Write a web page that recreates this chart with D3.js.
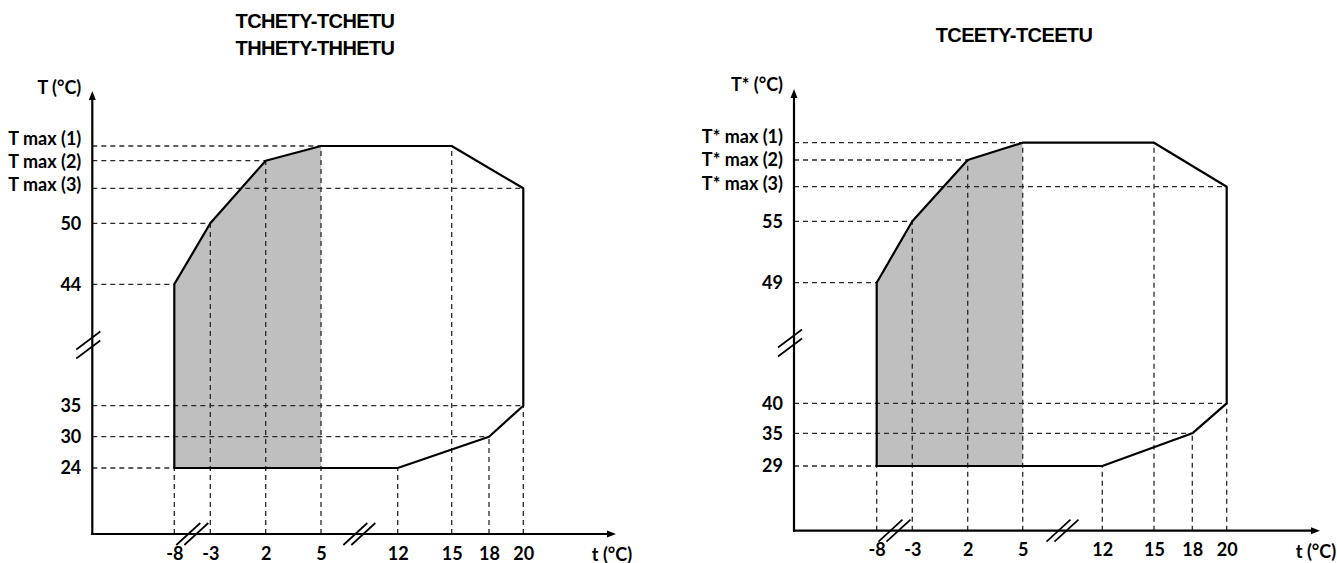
<!DOCTYPE html>
<html><head><meta charset="utf-8">
<script src="https://cdn.jsdelivr.net/npm/d3@7"></script>
<style>body{margin:0;background:#fff}svg{display:block}</style>
</head><body>
<svg id="c" width="1337" height="563"></svg>
<script>
// ---------- data ----------
const tTicks = [-8, -3, 2, 5, 12, 15, 18, 20];
const leftLevels  = ["24", "30", "35", "44", "50", "T max (3)", "T max (2)", "T max (1)"];
const rightLevels = ["29", "35", "40", "49", "55", "T* max (3)", "T* max (2)", "T* max (1)"];
const leftOutline = [[-8,"24"],[12,"24"],[18,"30"],[20,"35"],[20,"T max (3)"],[15,"T max (1)"],[5,"T max (1)"],[2,"T max (2)"],[-3,"50"],[-8,"44"]];
const rightOutline = [[-8,"29"],[12,"29"],[18,"35"],[20,"40"],[20,"T* max (3)"],[15,"T* max (1)"],[5,"T* max (1)"],[2,"T* max (2)"],[-3,"55"],[-8,"49"]];
const shadedUpTo = 5;
const leftTitle = ["TCHETY-TCHETU", "THHETY-THHETU"];
const rightTitle = ["TCEETY-TCEETU"];
const leftYTitle = "T (°C)";
const rightYTitle = "T* (°C)";
const xTitle = "t (°C)";
// axis breaks sit between these tick pairs
const xBreaks = [[-8, -3], [5, 12]];

// ---------- layout (schematic, broken axes) ----------
const charts = [
  { x0: 92.3, y0: 534, xEnd: 616, yTop: 91,
    xOff: [82, 118, 173.4, 228.7, 305.4, 359.4, 396.7, 431],
    yOff: [66, 97.3, 128.3, 249.7, 310.7, 345.7, 373.3, 388],
    labelShift: [0, 0, 0, 0, 0, -4, 1, -7],
    levels: leftLevels, outline: leftOutline, title: leftTitle, titleX: 315, titleY: 21,
    yTitle: leftYTitle, yTitleY: 88 },
  { x0: 794, y0: 530.7, xEnd: 1320, yTop: 89,
    xOff: [82.7, 118.3, 173.7, 228.7, 308.3, 360, 398.3, 432.7],
    yOff: [64.7, 97.4, 127.4, 248, 309.4, 344, 370.7, 388],
    labelShift: [0, 0, 0, 0, 0, -3, 0, -6],
    levels: rightLevels, outline: rightOutline, title: rightTitle, titleX: 1014, titleY: 35,
    yTitle: rightYTitle, yTitleY: 85 }
];

const svg = d3.select("#c");
const labelFont = "Lato, 'Open Sans', sans-serif";
const labelSize = 18;

charts.forEach(c => {
  const g = svg.append("g");
  const x = d3.scaleOrdinal().domain(tTicks).range(c.xOff.map(o => c.x0 + o));
  const y = d3.scaleOrdinal().domain(c.levels).range(c.yOff.map(o => c.y0 - o));
  const P = p => [x(p[0]), y(p[1])];

  // shaded region
  const bottom = c.levels[0];
  const shade = [[tTicks[0], bottom], [shadedUpTo, bottom]]
    .concat(c.outline.filter(p => p[0] <= shadedUpTo && p[1] !== bottom));
  g.append("path").attr("d", d3.line()(shade.map(P)) + "Z")
    .attr("fill", "#bfbfbf").attr("stroke", "none");

  // dashed guides
  const guides = g.append("g").attr("stroke", "#2a2a2a").attr("stroke-width", 1.3)
    .attr("stroke-dasharray", "5,4").attr("fill", "none");
  c.levels.forEach(l => {
    const pts = c.outline.filter(p => p[1] === l);
    const tMin = d3.min(pts, p => p[0]);
    guides.append("line").attr("x1", c.x0).attr("x2", x(tMin)).attr("y1", y(l)).attr("y2", y(l));
  });
  tTicks.forEach(t => {
    const pts = c.outline.filter(p => p[0] === t);
    const lMin = pts.map(p => c.levels.indexOf(p[1])).sort((a, b) => a - b)[0];
    guides.append("line").attr("x1", x(t)).attr("x2", x(t)).attr("y1", c.y0).attr("y2", y(c.levels[lMin]));
  });

  // outline
  g.append("path").attr("d", d3.line()(c.outline.map(P)) + "Z")
    .attr("fill", "none").attr("stroke", "#000").attr("stroke-width", 2.2)
    .attr("stroke-linejoin", "round");

  // axes lines with arrows
  g.append("line").attr("x1", c.x0).attr("x2", c.x0).attr("y1", c.y0 + 1).attr("y2", c.yTop + 6)
    .attr("stroke", "#000").attr("stroke-width", 2.2);
  g.append("line").attr("x1", c.x0 - 1).attr("x2", c.xEnd - 6).attr("y1", c.y0).attr("y2", c.y0)
    .attr("stroke", "#000").attr("stroke-width", 2.2);
  g.append("path").attr("d", `M${c.x0},${c.yTop}L${c.x0 - 3.5},${c.yTop + 9}L${c.x0 + 3.5},${c.yTop + 9}Z`).attr("fill", "#000");
  g.append("path").attr("d", `M${c.xEnd},${c.y0}L${c.xEnd - 9},${c.y0 - 3.5}L${c.xEnd - 9},${c.y0 + 3.5}Z`).attr("fill", "#000");

  // break marks
  const brk = (cx, cy, dx, dy, ox, oy) => {
    [-1, 1].forEach(s => {
      g.append("line").attr("x1", cx + s * ox - dx).attr("y1", cy + s * oy + dy)
        .attr("x2", cx + s * ox + dx).attr("y2", cy + s * oy - dy)
        .attr("stroke", "#000").attr("stroke-width", 1.7);
    });
  };
  xBreaks.forEach(b => brk((x(b[0]) + x(b[1])) / 2, c.y0, 12, 11, 4, 0));
  brk(c.x0 - 4, (y(c.levels[2]) + y(c.levels[3])) / 2, 12, 9, 0, 4.5);

  // tick labels through d3 axes
  const ax = g.append("g").attr("transform", `translate(${c.x0},0)`)
    .call(d3.axisLeft(y).tickValues(c.levels).tickSize(0).tickPadding(11));
  ax.select(".domain").remove();
  ax.selectAll("text").attr("font-family", labelFont).attr("font-weight", "bold")
    .attr("font-size", labelSize).attr("fill", "#000")
    .attr("transform", (d, i) => `translate(0,${c.labelShift[i]})`);
  const bx = g.append("g").attr("transform", `translate(0,${c.y0})`)
    .call(d3.axisBottom(x).tickValues(tTicks).tickSize(0).tickPadding(13));
  bx.select(".domain").remove();
  bx.selectAll("text").attr("font-family", labelFont).attr("font-weight", "bold")
    .attr("font-size", labelSize).attr("fill", "#000");

  // axis titles
  g.append("text").attr("x", c.x0 - 11).attr("y", c.yTitleY).attr("dy", "0.35em")
    .attr("text-anchor", "end").attr("font-family", labelFont).attr("font-weight", "bold")
    .attr("font-size", labelSize).text(c.yTitle);
  g.append("text").attr("x", c.xEnd - 4).attr("y", c.y0 + 21).attr("dy", "0.35em")
    .attr("text-anchor", "middle").attr("font-family", labelFont).attr("font-weight", "bold")
    .attr("font-size", labelSize).text(xTitle);

  // chart title
  c.title.forEach((t, i) => {
    g.append("text").attr("x", c.titleX).attr("y", c.titleY + i * 27).attr("dy", "0.35em")
      .attr("text-anchor", "middle").attr("font-family", "'Liberation Sans', Arial, sans-serif")
      .attr("font-weight", "bold").attr("font-size", 20).attr("letter-spacing", -0.6).text(t);
  });
});
</script>
</body></html>
